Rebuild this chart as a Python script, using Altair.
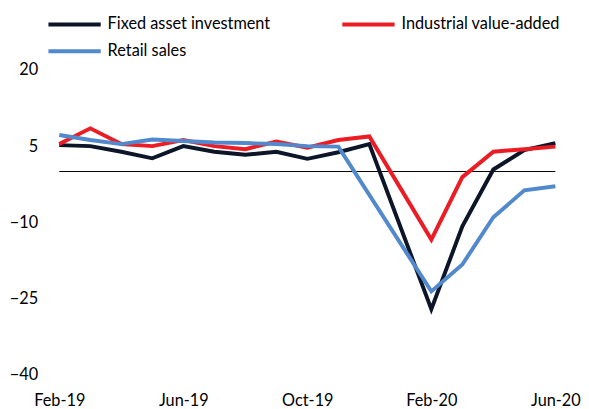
import altair as alt
import pandas as pd

months = ["Feb-19", "Mar-19", "Apr-19", "May-19", "Jun-19", "Jul-19", "Aug-19",
          "Sep-19", "Oct-19", "Nov-19", "Dec-19", "Jan-20", "Feb-20", "Mar-20",
          "Apr-20", "May-20", "Jun-20"]
tick_labels = ["Feb-19", "Jun-19", "Oct-19", "Feb-20", "Jun-20"]
y_ticks = [-40, -25, -10, 5, 20]

series_names = ["Fixed asset investment", "Industrial value-added", "Retail sales"]
fai = [5.2, 5.0, 3.9, 2.6, 5.0, 3.9, 3.3, 3.9, 2.5, 3.8, 5.4, None, -27.1, -10.8, 0.4, 4.2, 5.6]
iva = [5.4, 8.5, 5.4, 5.0, 6.2, 5.0, 4.4, 5.9, 4.7, 6.2, 6.9, None, -13.4, -1.1, 3.9, 4.4, 4.9]
retail = [7.2, 6.2, 5.4, 6.3, 6.0, 5.7, 5.6, 5.4, 5.0, 4.9, None, None, -23.6, -18.3, -9.0, -3.7, -2.9]
colors = {"Fixed asset investment": "#0c1628",
          "Industrial value-added": "#ec1c24",
          "Retail sales": "#5288cc"}

rows = []
for name, vals in zip(series_names, [fai, iva, retail]):
    for i, (m, v) in enumerate(zip(months, vals)):
        if v is not None:
            rows.append({"month": m, "idx": i, "series": name, "value": v})
df = pd.DataFrame(rows)

# legend fills column-major: order so that rows read FAI | IVA, then Retail
legend_order = ["Fixed asset investment", "Retail sales", "Industrial value-added"]

FONT = "Lato"
FS = 16.5

x = alt.X("month:O",
          scale=alt.Scale(domain=months, type="point", padding=0),
          axis=alt.Axis(values=tick_labels, labelAngle=0, ticks=False, domain=False,
                        grid=False, labelPadding=18, title=None))
y = alt.Y("value:Q",
          scale=alt.Scale(domain=[-40, 20], nice=False, zero=False),
          axis=alt.Axis(values=y_ticks, ticks=False, domain=False, grid=False,
                        labelPadding=22, title=None))

lines = alt.Chart(df).mark_line(strokeWidth=4).encode(
    x=x,
    y=y,
    color=alt.Color("series:N",
                    scale=alt.Scale(domain=legend_order,
                                    range=[colors[s] for s in legend_order]),
                    legend=alt.Legend(orient="none", legendX=-13, legendY=-56,
                                      columns=2, columnPadding=71, rowPadding=7,
                                      clipHeight=20,
                                      symbolType="stroke", symbolSize=2809,
                                      symbolStrokeWidth=4, labelFont=FONT,
                                      labelFontSize=FS, labelOffset=5,
                                      labelColor="black", title=None,
                                      labelLimit=400, padding=0)),
    order=alt.Order("idx:Q"),
)

rule = alt.Chart(pd.DataFrame({"value": [0]})).mark_rule(
    color="black", strokeWidth=1).encode(y=alt.Y("value:Q"))

chart = alt.layer(rule, lines).properties(
    width=503, height=309,
    autosize=alt.AutoSizeParams(type="none"),
    padding={"left": 52, "top": 60, "right": 26, "bottom": 32},
).configure_view(stroke=None).configure_axis(
    labelFont=FONT, labelFontSize=FS, labelColor="black"
)

chart.save("out.html", embed_options={"renderer": "svg", "actions": False})
